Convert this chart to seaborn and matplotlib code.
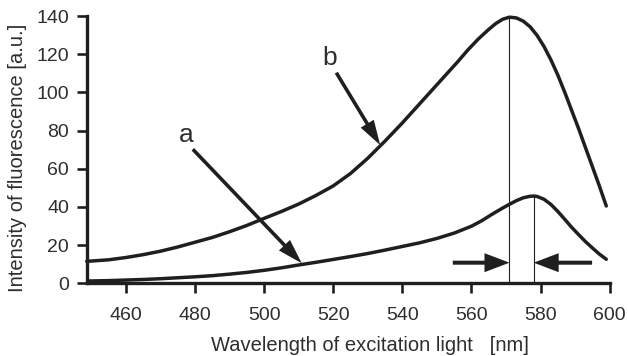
import matplotlib
matplotlib.use("Agg")
import matplotlib.pyplot as plt
import numpy as np
import pandas as pd
import seaborn as sns

# ---- data ----
wavelength_a = [449, 455, 460, 465, 470, 475, 480, 485, 490, 495, 500, 505, 510, 515,
                520, 525, 530, 535, 540, 545, 550, 555, 560, 563, 566, 569, 571, 573,
                575, 577, 578, 579, 581, 583, 585, 587, 589, 591, 593, 595, 597, 599]
intensity_a = [1.2, 1.4, 1.7, 2.0, 2.4, 2.9, 3.4, 4.0, 4.8, 5.7, 6.8, 8.1, 9.6, 11.0,
               12.5, 14.0, 15.6, 17.4, 19.3, 21.2, 23.5, 26.3, 29.9, 32.8, 36.2, 39.4, 41.4, 43.3,
               44.8, 45.6, 45.7, 45.5, 44.0, 41.3, 37.6, 33.5, 29.3, 25.5, 21.8, 18.5, 15.3, 12.6]

wavelength_b = [448.7, 455, 460, 465, 470, 475, 480, 485, 490, 495, 500, 505, 510, 515,
                520, 525, 530, 535, 540, 545, 550, 553, 556, 559, 562, 565, 567, 569,
                571, 573, 575, 577, 579, 581, 583, 585, 587, 589, 591, 593, 595, 597, 599]
intensity_b = [11.5, 12.3, 13.5, 15.0, 16.8, 19.0, 21.5, 24.0, 27.0, 30.3, 34.0, 37.6, 41.5, 46.0,
               51.0, 57.5, 65.5, 74.5, 84.0, 94.0, 104.0, 110.0, 116.0, 122.3, 128.0, 133.0, 136.0, 138.3,
               139.4, 139.0, 137.3, 134.3, 129.8, 124.0, 117.0, 109.0, 100.0, 90.5, 81.0, 71.0, 61.0, 51.0, 40.5]

peak_b_wl = 571
peak_a_wl = 578

x_ticks = [460, 480, 500, 520, 540, 560, 580, 600]
y_ticks = [0, 20, 40, 60, 80, 100, 120, 140]

label_a = "a"
label_b = "b"
x_label = "Wavelength of excitation light   [nm]"
y_label = "Intensity of fluorescence [a.u.]"

# ---- style ----
sns.set_theme(style="ticks")
plt.rcParams["font.family"] = ["Liberation Sans", "DejaVu Sans"]

LINE = "#1f1f1f"
TEXT = "#2e2e2e"

fig = plt.figure(figsize=(6.28, 3.56), dpi=100)
fig.patch.set_facecolor("white")
ax = fig.add_axes([0.1381, 0.2042, 0.8328, 0.7508])
ax.set_facecolor("white")

df_a = pd.DataFrame({"wl": wavelength_a, "I": intensity_a})
df_b = pd.DataFrame({"wl": wavelength_b, "I": intensity_b})
sns.lineplot(data=df_a, x="wl", y="I", ax=ax, color=LINE, lw=2.5, clip_on=False)
sns.lineplot(data=df_b, x="wl", y="I", ax=ax, color=LINE, lw=2.5, clip_on=False)

# vertical peak markers
ax.plot([peak_b_wl, peak_b_wl], [0, max(intensity_b)], color=LINE, lw=0.8, clip_on=False)
ax.plot([peak_a_wl, peak_a_wl], [0, max(intensity_a)], color=LINE, lw=0.8, clip_on=False)

# labels with arrows
ax.text(477.4, 74.2, label_a, fontsize=19, color=TEXT, ha="center", va="baseline")
ax.text(519.0, 114.4, label_b, fontsize=19, color=TEXT, ha="center", va="baseline")

diag_style = "simple,head_length=1.8,head_width=1.1,tail_width=0.26"
ax.annotate("", xy=(510.9, 10.5), xytext=(479.4, 70.2),
            arrowprops=dict(arrowstyle=diag_style, mutation_scale=10, color=LINE,
                            lw=0, shrinkA=0, shrinkB=0))
ax.annotate("", xy=(533.6, 72.4), xytext=(520.9, 110.3),
            arrowprops=dict(arrowstyle=diag_style, mutation_scale=10, color=LINE,
                            lw=0, shrinkA=0, shrinkB=0))

horiz_style = "simple,head_length=1.8,head_width=1.37,tail_width=0.29"
ax.annotate("", xy=(peak_b_wl, 10.8), xytext=(554.6, 10.8),
            arrowprops=dict(arrowstyle=horiz_style, mutation_scale=10, color=LINE,
                            lw=0, shrinkA=0, shrinkB=0))
ax.annotate("", xy=(peak_a_wl, 10.8), xytext=(594.9, 10.8),
            arrowprops=dict(arrowstyle=horiz_style, mutation_scale=10, color=LINE,
                            lw=0, shrinkA=0, shrinkB=0))

# axes
ax.set_xlim(448.7, 600)
ax.set_ylim(0, 140)
ax.set_xticks(x_ticks)
ax.set_yticks(y_ticks)
ax.set_xticklabels([str(t) for t in x_ticks])
ax.set_yticklabels([str(t) for t in y_ticks])

for side in ("top", "right"):
    ax.spines[side].set_visible(False)
for side in ("left", "bottom"):
    ax.spines[side].set_linewidth(2.4)
    ax.spines[side].set_color(LINE)

ax.tick_params(axis="both", direction="out", length=7.2, width=1.9, color=LINE,
               labelsize=14, labelcolor=TEXT)
ax.tick_params(axis="x", pad=10)
ax.tick_params(axis="y", pad=5.5)

ax.set_xlabel(x_label, fontsize=14.5, color=TEXT)
ax.set_ylabel(y_label, fontsize=14.5, color=TEXT)
ax.xaxis.set_label_coords(0.5407, -0.197)
ax.yaxis.set_label_coords(-0.114, 0.471)

fig.savefig("out.png", dpi=100, facecolor="white")
